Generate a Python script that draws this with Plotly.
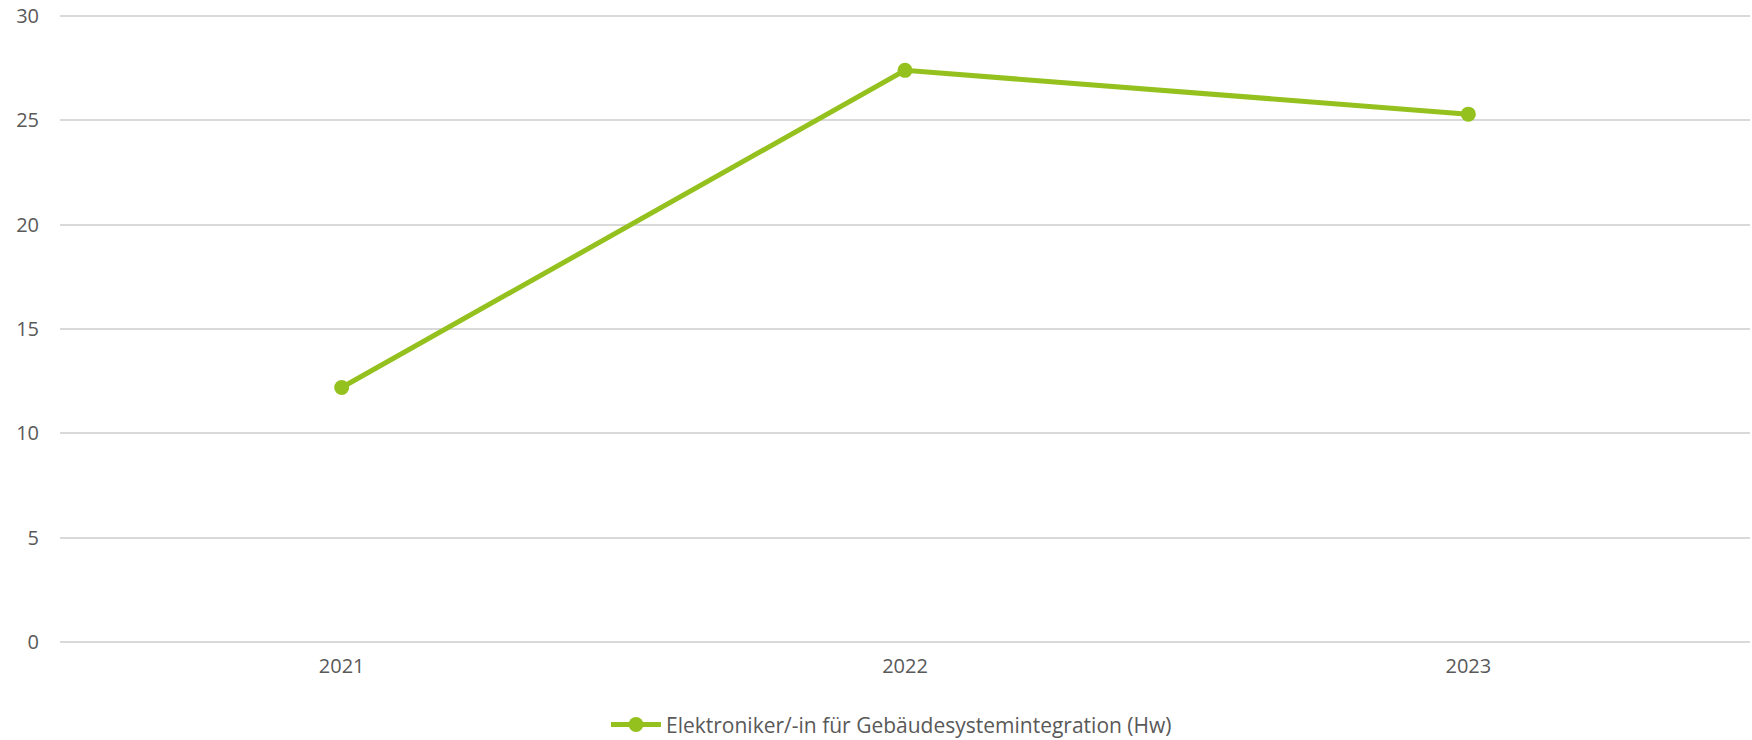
import plotly.graph_objects as go

years = ["2021", "2022", "2023"]
values = [12.2, 27.4, 25.3]
series_name = "Elektroniker/-in für Gebäudesystemintegration (Hw)"
y_ticks = [0, 5, 10, 15, 20, 25, 30]

GREEN = "#95c11f"
TEXT = "#595959"
GRID = "#d9d9d9"
FONT = "Open Sans, Noto Sans, sans-serif"
FS = 20

fig = go.Figure()
fig.add_trace(go.Scatter(
    x=years, y=values, name=series_name, mode="lines+markers",
    line=dict(color=GREEN, width=5),
    marker=dict(color=GREEN, size=15),
    showlegend=True,
))

fig.update_layout(
    width=1752, height=740,
    margin=dict(l=60, r=2, t=14, b=98, autoexpand=False),
    paper_bgcolor="white", plot_bgcolor="white",
    font=dict(family=FONT, size=FS, color=TEXT),
    showlegend=True,
    legend=dict(orientation="h", x=0.492, xanchor="center", y=-0.132, yanchor="middle",
                font=dict(size=21, color=TEXT), itemwidth=50),
    xaxis=dict(type="category", range=[-0.5, 2.5], showgrid=False, showline=False,
               ticks="", tickfont=dict(size=FS, color=TEXT), ticklabelstandoff=10,
               automargin=False),
    yaxis=dict(range=[0, 30.1], tickvals=y_ticks, showgrid=True, gridcolor=GRID, gridwidth=1.5,
               zeroline=True, zerolinecolor=GRID, zerolinewidth=1.5, showline=False,
               ticks="", tickfont=dict(size=FS, color=TEXT), ticklabelstandoff=20,
               ticklabeloverflow="allow", automargin=False),
)

# remove the page's default body margin so the figure fills the window exactly
fig.write_html("out.html", config={"displayModeBar": False},
               post_script="document.body.style.margin='0';document.body.style.overflow='hidden';")
